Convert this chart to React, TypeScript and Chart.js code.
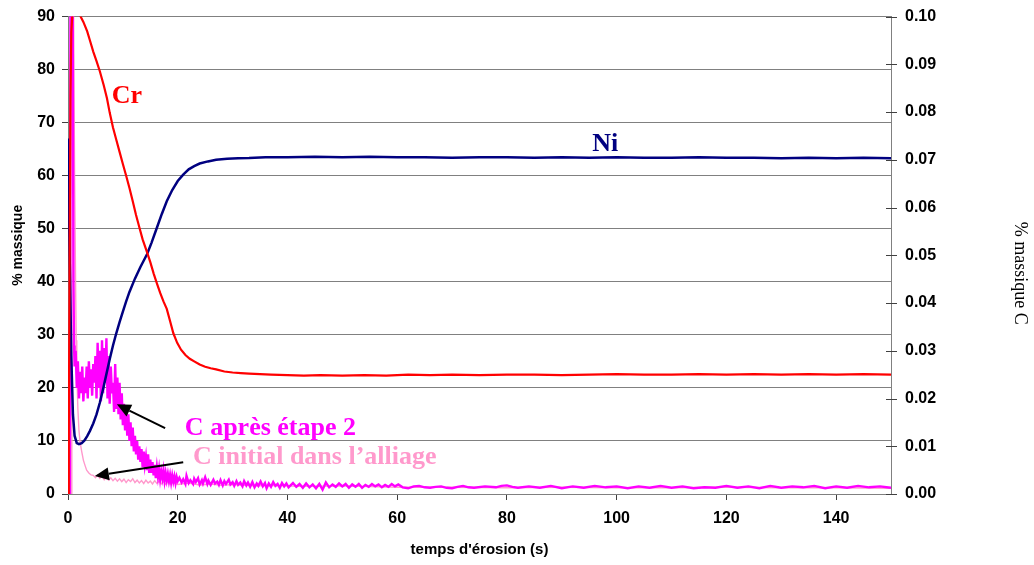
import React, { useEffect, useRef } from "react";
import { Chart, registerables } from "chart.js";

Chart.register(...registerables);

// ---- Data (time in s, values in % massique) ----
const xTicks = [0, 20, 40, 60, 80, 100, 120, 140];

const crPoints: [number, number][] = [
  [0, 0], [0.15, 12], [0.3, 45], [0.45, 75], [0.6, 87], [0.8, 90.6], [1.2, 91], [1.8, 91], [2.2, 90.2],
  [2.8, 89], [3.5, 87.2], [4.0, 85.5], [4.6, 83.4], [5.2, 81.6], [5.8, 79.7], [6.5, 77.1], [7.1, 74.6],
  [7.6, 71.9], [8.2, 69.1], [8.8, 66.8], [9.4, 64.5], [10.0, 62.2], [10.6, 60.0], [11.2, 57.7], [11.8, 55.2],
  [12.4, 52.6], [13.0, 50.3], [13.6, 48.0], [14.4, 45.6], [15.0, 43.7], [15.6, 41.6], [16.2, 39.7],
  [16.8, 37.9], [17.4, 36.3], [18.0, 34.9], [18.6, 32.6], [19.2, 30.3], [19.9, 28.5], [20.6, 27.2],
  [21.4, 26.2], [22.2, 25.5], [23.0, 25.0], [24.0, 24.4], [25.0, 24.0], [26.0, 23.7], [27.0, 23.5],
  [28.5, 23.1], [30, 22.9], [31.5, 22.8], [33, 22.7], [35, 22.6], [37, 22.5], [40, 22.4], [43, 22.3],
  [46, 22.4], [50, 22.3], [54, 22.4], [58, 22.3], [62, 22.5], [66, 22.4], [70, 22.5], [75, 22.4],
  [80, 22.5], [85, 22.5], [90, 22.4], [95, 22.5], [100, 22.6], [105, 22.5], [110, 22.5], [115, 22.6],
  [120, 22.5], [125, 22.6], [130, 22.5], [135, 22.6], [140, 22.5], [145, 22.6], [150, 22.5],
];

const niPoints: [number, number][] = [
  [0, 67], [0.3, 45], [0.6, 26], [0.9, 15], [1.2, 11], [1.6, 9.6], [2.0, 9.4], [2.5, 9.6], [3.0, 10.1],
  [3.5, 10.9], [4.0, 11.9], [4.6, 13.3], [5.2, 15.0], [5.8, 17.2], [6.4, 19.8], [7.0, 22.6], [7.6, 25.4],
  [8.2, 28.0], [8.8, 30.3], [9.4, 32.4], [10.0, 34.4], [10.6, 36.3], [11.2, 38.1], [12.2, 40.6],
  [13.2, 42.8], [14.4, 45.2], [15.2, 47.3], [16.2, 50.2], [17.1, 52.8], [18.0, 55.2], [19.0, 57.3],
  [20.0, 59.0], [21.0, 60.2], [22.0, 61.2], [23.0, 61.8], [24.0, 62.3], [25.5, 62.7], [27.0, 63.0],
  [29, 63.2], [31, 63.3], [33, 63.35], [36, 63.5], [40, 63.5], [45, 63.6], [50, 63.5], [55, 63.6],
  [60, 63.5], [65, 63.5], [70, 63.4], [75, 63.5], [80, 63.5], [85, 63.4], [90, 63.5], [95, 63.4],
  [100, 63.5], [105, 63.4], [110, 63.4], [115, 63.5], [120, 63.4], [125, 63.4], [130, 63.3],
  [135, 63.4], [140, 63.3], [145, 63.4], [150, 63.3],
];

// % massique C (right axis)
const cApresPoints: [number, number][] = [
  [0, 0], [0.35, 0], [0.45, 0.105], [0.85, 0.105], [1.0, 0.0444], [1.1, 0.0311], [1.2, 0.0267],
  [1.4, 0.03], [1.6, 0.0222], [1.8, 0.0278], [2.0, 0.02], [2.2, 0.0256], [2.4, 0.0211], [2.6, 0.0267],
  [2.8, 0.0194], [3.0, 0.0244], [3.2, 0.0211], [3.4, 0.0267], [3.6, 0.02], [3.8, 0.0278], [4.0, 0.0222],
  [4.2, 0.0261], [4.4, 0.0206], [4.6, 0.0272], [4.8, 0.0233], [5.0, 0.0289], [5.2, 0.02], [5.4, 0.0317],
  [5.6, 0.0222], [5.8, 0.03], [6.0, 0.0194], [6.2, 0.0322], [6.4, 0.0211], [6.6, 0.0306], [6.8, 0.0233],
  [7.0, 0.0326], [7.2, 0.02], [7.4, 0.0289], [7.6, 0.0189], [7.8, 0.0267], [8.0, 0.0211], [8.2, 0.0233],
  [8.4, 0.0172], [8.6, 0.0272], [8.8, 0.0178], [9.0, 0.0244], [9.2, 0.0167], [9.4, 0.0233], [9.6, 0.0156],
  [9.8, 0.0211], [10.0, 0.0144], [10.2, 0.0189], [10.4, 0.0133], [10.6, 0.0178], [10.8, 0.0122],
  [11.0, 0.0167], [11.2, 0.0111], [11.4, 0.015], [11.6, 0.01], [11.8, 0.0139], [12.0, 0.0089],
  [12.2, 0.0122], [12.4, 0.0083], [12.6, 0.0111], [12.8, 0.0072], [13.0, 0.01], [13.2, 0.0067],
  [13.4, 0.0094], [13.6, 0.0056], [13.8, 0.0089], [14.0, 0.0061], [14.2, 0.0078], [14.4, 0.005],
  [14.6, 0.0083], [14.8, 0.0044], [15.0, 0.0072], [15.2, 0.0044], [15.4, 0.0067], [15.6, 0.0039],
  [15.8, 0.0061], [16.0, 0.0033], [16.2, 0.0056], [16.4, 0.0036], [16.6, 0.0053], [16.8, 0.0031],
  [17.0, 0.0047], [17.2, 0.0033], [17.4, 0.005], [17.6, 0.0028], [17.8, 0.0044], [18.0, 0.0029],
  [18.2, 0.0042], [18.4, 0.0027], [18.6, 0.004], [18.8, 0.0024], [19.0, 0.0039], [19.2, 0.0026],
  [19.4, 0.0037], [19.6, 0.0023], [19.8, 0.0036], [20.0, 0.0027],
  [20.3, 0.0034], [20.7, 0.0024], [21, 0.0031], [21.4, 0.0021], [21.6, 0.0038], [22, 0.0023], [22.3, 0.0029],
  [22.8, 0.0021], [23, 0.0032], [23.3, 0.0025], [23.7, 0.0033], [24, 0.002], [24.4, 0.0029], [24.6, 0.0022],
  [25, 0.0035], [25.4, 0.0021], [25.6, 0.0028], [26, 0.0019], [26.5, 0.003], [26.8, 0.0022], [27.2, 0.0026],
  [27.5, 0.0019], [27.8, 0.0029], [28.2, 0.0018], [28.5, 0.0027], [28.8, 0.0021], [29.3, 0.003], [29.6, 0.002],
  [30, 0.0025], [30.3, 0.0017], [30.7, 0.0027], [31, 0.0019], [31.4, 0.0024], [31.8, 0.0016], [32.1, 0.0027],
  [32.5, 0.0018], [32.8, 0.0024], [33.2, 0.0015], [33.6, 0.0025], [34, 0.0014], [34.4, 0.0022], [34.7, 0.0017],
  [35.1, 0.0026], [35.5, 0.0016], [35.9, 0.0023], [36.2, 0.0012], [36.6, 0.0022], [37, 0.0015], [37.4, 0.0025],
  [37.8, 0.0017], [38.2, 0.0021], [38.6, 0.0013], [39, 0.0023], [39.4, 0.0016], [39.8, 0.0022], [40.2, 0.0014],
  [41, 0.0023], [41.6, 0.0015], [42.2, 0.0021], [42.8, 0.0013], [43.4, 0.0022], [44, 0.0014], [44.6, 0.002],
  [45.2, 0.0012], [45.8, 0.0021], [46.4, 0.0009], [47, 0.0024], [47.6, 0.0014], [48.2, 0.002], [48.8, 0.0015],
  [49.4, 0.0022], [50, 0.0016], [50.6, 0.0021], [51.2, 0.0013], [51.8, 0.002], [52.4, 0.0015], [53, 0.0021],
  [53.6, 0.0013], [54.2, 0.0019], [54.8, 0.0015], [55.4, 0.0021], [56, 0.0016], [56.6, 0.002], [57.2, 0.0014],
  [57.8, 0.0019], [58.4, 0.0015], [59, 0.0021], [59.6, 0.0016], [60.2, 0.002],
  [61, 0.0014], [62, 0.0012], [63, 0.0016], [64, 0.0017], [65, 0.0014], [66, 0.0013], [67, 0.0015],
  [68, 0.0016], [69, 0.0013], [70, 0.0012], [71, 0.0015], [72, 0.0017], [73, 0.0014], [74, 0.0013],
  [76, 0.0016], [78, 0.0014], [79, 0.0017], [80, 0.0018], [81, 0.0015], [82, 0.0013], [84, 0.0016],
  [86, 0.0013], [88, 0.0017], [90, 0.0012], [92, 0.0016], [94, 0.0013], [96, 0.0017], [98, 0.0014],
  [100, 0.0016], [102, 0.0012], [104, 0.0016], [106, 0.0013], [108, 0.0017], [110, 0.0013], [112, 0.0016],
  [114, 0.0012], [116, 0.0014], [118, 0.0013], [120, 0.0017], [122, 0.0013], [124, 0.0016], [126, 0.0012],
  [128, 0.0017], [130, 0.0013], [132, 0.0016], [134, 0.0014], [136, 0.0017], [138, 0.0012], [140, 0.0016],
  [142, 0.0013], [144, 0.0017], [146, 0.0014], [148, 0.0016], [150, 0.0013],
];

const cInitialPoints: [number, number][] = [
  [0, 0], [0.55, 0], [0.7, 0.105], [1.0, 0.105], [1.2, 0.0667], [1.4, 0.0422], [1.5, 0.0322], [1.6, 0.0256],
  [1.8, 0.0178], [2.0, 0.0133], [2.2, 0.0109], [2.5, 0.0089], [2.8, 0.0071], [3.1, 0.006], [3.4, 0.005],
  [3.8, 0.0044], [4.2, 0.004], [4.6, 0.0039], [5.0, 0.0034], [5.4, 0.004], [5.8, 0.0033], [6.2, 0.0038],
  [6.6, 0.003], [7.0, 0.0036], [7.4, 0.0029], [7.8, 0.0034], [8.2, 0.0028], [8.6, 0.0033], [9.0, 0.0027],
  [9.4, 0.0032], [9.8, 0.0026], [10.2, 0.0031], [10.6, 0.0024], [11.0, 0.003], [11.4, 0.0026], [11.8, 0.0032],
  [12.2, 0.0024], [12.6, 0.0029], [13.0, 0.0023], [13.4, 0.0028], [13.8, 0.0022], [14.2, 0.0029],
  [14.6, 0.0023], [15.0, 0.0027], [15.4, 0.0021], [15.8, 0.0028], [16.2, 0.0022], [16.6, 0.0027],
  [17.0, 0.0021], [17.4, 0.0026], [17.8, 0.002], [18.2, 0.0026], [18.6, 0.0021], [19.0, 0.0024],
  [20, 0.002], [22, 0.0023], [24, 0.0019], [26, 0.0021], [28, 0.0018], [30, 0.002], [34, 0.0017],
  [38, 0.0018], [42, 0.0016], [50, 0.0017], [60, 0.0014], [70, 0.0014], [80, 0.0013], [90, 0.0014],
  [100, 0.0013], [110, 0.0013], [120, 0.0014], [130, 0.0013], [140, 0.0013], [150, 0.0012],
];

const toXY = (pts: [number, number][]) => pts.map(([x, y]) => ({ x, y }));

const SERIF = '"Liberation Serif", "Times New Roman", serif';
const SANS = '"Liberation Sans", Arial, sans-serif';

function drawArrow(ctx: CanvasRenderingContext2D, x1: number, y1: number, x2: number, y2: number) {
  const ang = Math.atan2(y2 - y1, x2 - x1);
  const headLen = 14;
  const headHalf = 6.5;
  const bx = x2 - headLen * Math.cos(ang);
  const by = y2 - headLen * Math.sin(ang);
  ctx.beginPath();
  ctx.moveTo(x1, y1);
  ctx.lineTo(bx, by);
  ctx.lineWidth = 2;
  ctx.strokeStyle = "#000";
  ctx.stroke();
  ctx.beginPath();
  ctx.moveTo(x2, y2);
  ctx.lineTo(bx + headHalf * Math.sin(ang), by - headHalf * Math.cos(ang));
  ctx.lineTo(bx - headHalf * Math.sin(ang), by + headHalf * Math.cos(ang));
  ctx.closePath();
  ctx.fillStyle = "#000";
  ctx.fill();
}

const annotationPlugin = {
  id: "annotations",
  afterDatasetsDraw(chart: any) {
    const { ctx, chartArea, scales } = chart;
    const x = scales.x;
    const y = scales.y;
    const y1 = scales.y1;
    ctx.save();
    // right axis tick marks crossing the axis line
    ctx.strokeStyle = "#404040";
    ctx.lineWidth = 1;
    y1.ticks.forEach((t: any) => {
      const py = Math.round(y1.getPixelForValue(t.value)) + 0.5;
      ctx.beginPath();
      ctx.moveTo(chartArea.right - 5, py);
      ctx.lineTo(chartArea.right + 6, py);
      ctx.stroke();
    });

    ctx.textBaseline = "middle";
    ctx.font = `bold 26px ${SERIF}`;
    ctx.textAlign = "center";
    ctx.fillStyle = "#FF0000";
    ctx.fillText("Cr", x.getPixelForValue(10.75), y.getPixelForValue(75));
    ctx.fillStyle = "#000080";
    ctx.fillText("Ni", x.getPixelForValue(97.9), y.getPixelForValue(66));

    ctx.textAlign = "left";
    ctx.fillStyle = "#FF00FF";
    ctx.fillText("C après étape 2", x.getPixelForValue(21.3), y.getPixelForValue(12.4));
    ctx.fillStyle = "#FF99CC";
    ctx.fillText("C initial dans l\u2019alliage", x.getPixelForValue(22.8), y.getPixelForValue(7.0));

    drawArrow(ctx, x.getPixelForValue(17.7), y.getPixelForValue(12.4), x.getPixelForValue(8.9), y.getPixelForValue(16.9));
    drawArrow(ctx, x.getPixelForValue(21.0), y.getPixelForValue(6.0), x.getPixelForValue(4.9), y.getPixelForValue(3.4));

    // axis titles for the two vertical axes
    const midY = (chartArea.top + chartArea.bottom) / 2;
    ctx.fillStyle = "#000";
    ctx.textAlign = "center";
    ctx.font = `bold 14px ${SANS}`;
    ctx.save();
    ctx.translate(18, midY - 10);
    ctx.rotate(-Math.PI / 2);
    ctx.fillText("% massique", 0, 0);
    ctx.restore();
    ctx.font = `18px ${SERIF}`;
    ctx.save();
    ctx.translate(chart.width - 14, midY + 18);
    ctx.rotate(Math.PI / 2);
    ctx.fillText("% massique C", 0, 0);
    ctx.restore();
    ctx.restore();
  },
};

export default function App() {
  const canvasRef = useRef<HTMLCanvasElement | null>(null);

  useEffect(() => {
    if (!canvasRef.current) return;
    Chart.defaults.font.family = SANS;
    const chart = new Chart(canvasRef.current, {
      type: "line",
      data: {
        datasets: [
          {
            label: "Cr",
            data: toXY(crPoints),
            yAxisID: "y",
            borderColor: "#FF0000",
            borderWidth: 2.2,
            pointRadius: 0,
            tension: 0,
          },
          {
            label: "Ni",
            data: toXY(niPoints),
            yAxisID: "y",
            borderColor: "#000080",
            borderWidth: 2.5,
            pointRadius: 0,
            tension: 0,
          },
          {
            label: "C après étape 2",
            data: toXY(cApresPoints),
            yAxisID: "y1",
            borderColor: "#FF00FF",
            borderWidth: 2.4,
            pointRadius: 0,
            tension: 0,
          },
          {
            label: "C initial dans l'alliage",
            data: toXY(cInitialPoints),
            yAxisID: "y1",
            borderColor: "#FF99CC",
            borderWidth: 1.4,
            pointRadius: 0,
            tension: 0,
          },
        ],
      },
      options: {
        animation: false,
        responsive: false,
        parsing: false,
        normalized: true,
        layout: { padding: { top: 8, left: 0, right: 0, bottom: 0 } },
        plugins: {
          legend: { display: false },
          tooltip: { enabled: false },
        },
        scales: {
          x: {
            type: "linear",
            min: 0,
            max: 150,
            afterBuildTicks: (scale: any) => {
              scale.ticks = xTicks.map((v) => ({ value: v }));
            },
            afterFit: (scale: any) => {
              scale.height = 71;
            },
            grid: {
              drawOnChartArea: false,
              drawTicks: true,
              tickLength: 6,
              tickColor: "#404040",
            },
            border: { display: true, color: "#808080", width: 1 },
            ticks: {
              font: { size: 16, weight: "bold" },
              color: "#000",
              padding: 9,
              maxRotation: 0,
            },
            title: {
              display: true,
              text: "temps d'érosion (s)",
              font: { size: 15, weight: "bold" },
              color: "#000",
              padding: { top: 0, bottom: 6 },
            },
          },
          y: {
            type: "linear",
            position: "left",
            min: 0,
            max: 90,
            ticks: {
              stepSize: 10,
              font: { size: 16, weight: "bold" },
              color: "#000",
              padding: 7,
            },
            afterFit: (scale: any) => {
              scale.width = 68;
            },
            grid: {
              color: "#808080",
              lineWidth: 1,
              drawTicks: true,
              tickLength: 6,
              tickColor: "#404040",
            },
            border: { display: true, color: "#808080", width: 1 },
            title: { display: false },
          },
          y1: {
            type: "linear",
            position: "right",
            min: 0,
            max: 0.1,
            ticks: {
              stepSize: 0.01,
              font: { size: 16, weight: "bold" },
              color: "#000",
              padding: 6,
              callback: (v: any) => Number(v).toFixed(2),
            },
            afterFit: (scale: any) => {
              scale.width = 143;
            },
            grid: { display: false },
            border: { display: true, color: "#808080", width: 1 },
            title: { display: false },
          },
        },
      },
      plugins: [annotationPlugin],
    } as any);
    return () => chart.destroy();
  }, []);

  return (
    <div style={{ position: "absolute", left: 0, top: 0, width: 1034, height: 565, background: "#fff" }}>
      <canvas ref={canvasRef} width={1034} height={565} style={{ display: "block" }} />
    </div>
  );
}
